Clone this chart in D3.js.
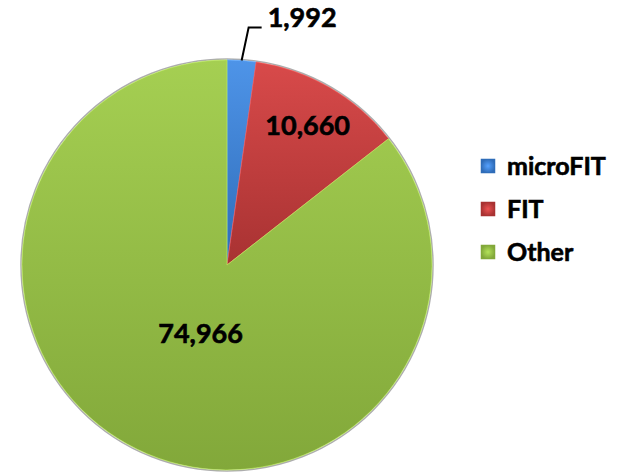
<!DOCTYPE html>
<html>
<head>
<meta charset="utf-8">
<script src="https://cdn.jsdelivr.net/npm/d3@7"></script>
<style>
  body { margin: 0; background: #fff; }
  text { font-family: Lato, "Open Sans", sans-serif; font-weight: bold; fill: #000; stroke: #000; stroke-width: 0.6px; }
</style>
</head>
<body>
<div id="chart"></div>
<script>
// data
var categories = ["microFIT", "FIT", "Other"];
var values = [1992, 10660, 74966];
var colors = ["#4a8cdc", "#cd4646", "#9cc44e"];
var darkColors = ["#2f6cb8", "#a83232", "#82a83a"];

var width = 622, height = 473;
var cx = 227, cy = 265, radius = 205;

var svg = d3.select("#chart").append("svg")
  .attr("width", width)
  .attr("height", height);

// gradients for a soft bevel look
var defs = svg.append("defs");
categories.forEach(function(c, i) {
  var g = defs.append("linearGradient")
    .attr("id", "grad" + i)
    .attr("x1", 0).attr("y1", 0).attr("x2", 0).attr("y2", 1);
  g.append("stop").attr("offset", "0%").attr("stop-color", d3.color(colors[i]).brighter(0.15));
  g.append("stop").attr("offset", "100%").attr("stop-color", darkColors[i]);
  var r = defs.append("radialGradient")
    .attr("id", "sq" + i);
  r.append("stop").attr("offset", "0%").attr("stop-color", d3.color(colors[i]).brighter(0.4));
  r.append("stop").attr("offset", "100%").attr("stop-color", darkColors[i]);
});

var pie = d3.pie().sort(null).value(function(d) { return d; });
var arcs = pie(values);

var arc = d3.arc().innerRadius(0).outerRadius(radius);

var g = svg.append("g")
  .attr("transform", "translate(" + cx + "," + cy + ")");

// outer shadow ring
g.append("circle")
  .attr("r", radius + 1)
  .style("fill", "none")
  .style("stroke", "#8a8a8a")
  .style("stroke-width", 1.5)
  .style("opacity", 0.7);

g.selectAll("path.slice")
  .data(arcs)
  .enter().append("path")
  .attr("class", "slice")
  .attr("d", arc)
  .style("fill", function(d, i) { return "url(#grad" + i + ")"; })
  .style("stroke", function(d, i) { return d3.color(colors[i]).brighter(0.5); })
  .style("stroke-width", 1)
  .style("stroke-opacity", 0.7);

var fmt = d3.format(",");
function midAngle(d) { return (d.startAngle + d.endAngle) / 2; }
function polar(a, r) { return [Math.sin(a) * r, -Math.cos(a) * r]; }

// label radius factors (fraction of radius) for inside labels
var labelR = [null, 0.785, 0.36];
var labelA = [null, null, 201 * Math.PI / 180];

arcs.forEach(function(d, i) {
  if (labelR[i] == null) {
    // outside label with leader line
    var p0 = polar(midAngle(d), radius);
    var p1 = [p0[0] + 7, p0[1] - 33];
    var p2 = [p1[0] + 13, p1[1]];
    g.append("path")
      .attr("d", d3.line()([p0, p1, p2]))
      .style("fill", "none")
      .style("stroke", "#000")
      .style("stroke-width", 2);
    g.append("text")
      .attr("x", p2[0] + 6)
      .attr("y", p1[1] - 10)
      .attr("dy", "0.35em")
      .style("font-size", "27px")
      .text(fmt(values[i]));
  } else {
    var a = labelA[i] != null ? labelA[i] : midAngle(d);
    var p = polar(a, radius * labelR[i]);
    g.append("text")
      .attr("x", p[0])
      .attr("y", p[1])
      .attr("dy", "0.35em")
      .attr("text-anchor", "middle")
      .style("font-size", "27px")
      .text(fmt(values[i]));
  }
});

// legend
var legend = svg.append("g")
  .attr("transform", "translate(481,159)");

var row = legend.selectAll("g.row")
  .data(categories)
  .enter().append("g")
  .attr("class", "row")
  .attr("transform", function(d, i) { return "translate(0," + (i * 43) + ")"; });

row.append("rect")
  .attr("width", 14)
  .attr("height", 14)
  .style("fill", function(d, i) { return "url(#sq" + i + ")"; })
  .style("stroke", function(d, i) { return darkColors[i]; })
  .style("stroke-width", 0.5);

row.append("text")
  .attr("x", 26)
  .attr("y", 7)
  .attr("dy", "0.35em")
  .style("font-size", "25px")
  .text(function(d) { return d; });
</script>
</body>
</html>
